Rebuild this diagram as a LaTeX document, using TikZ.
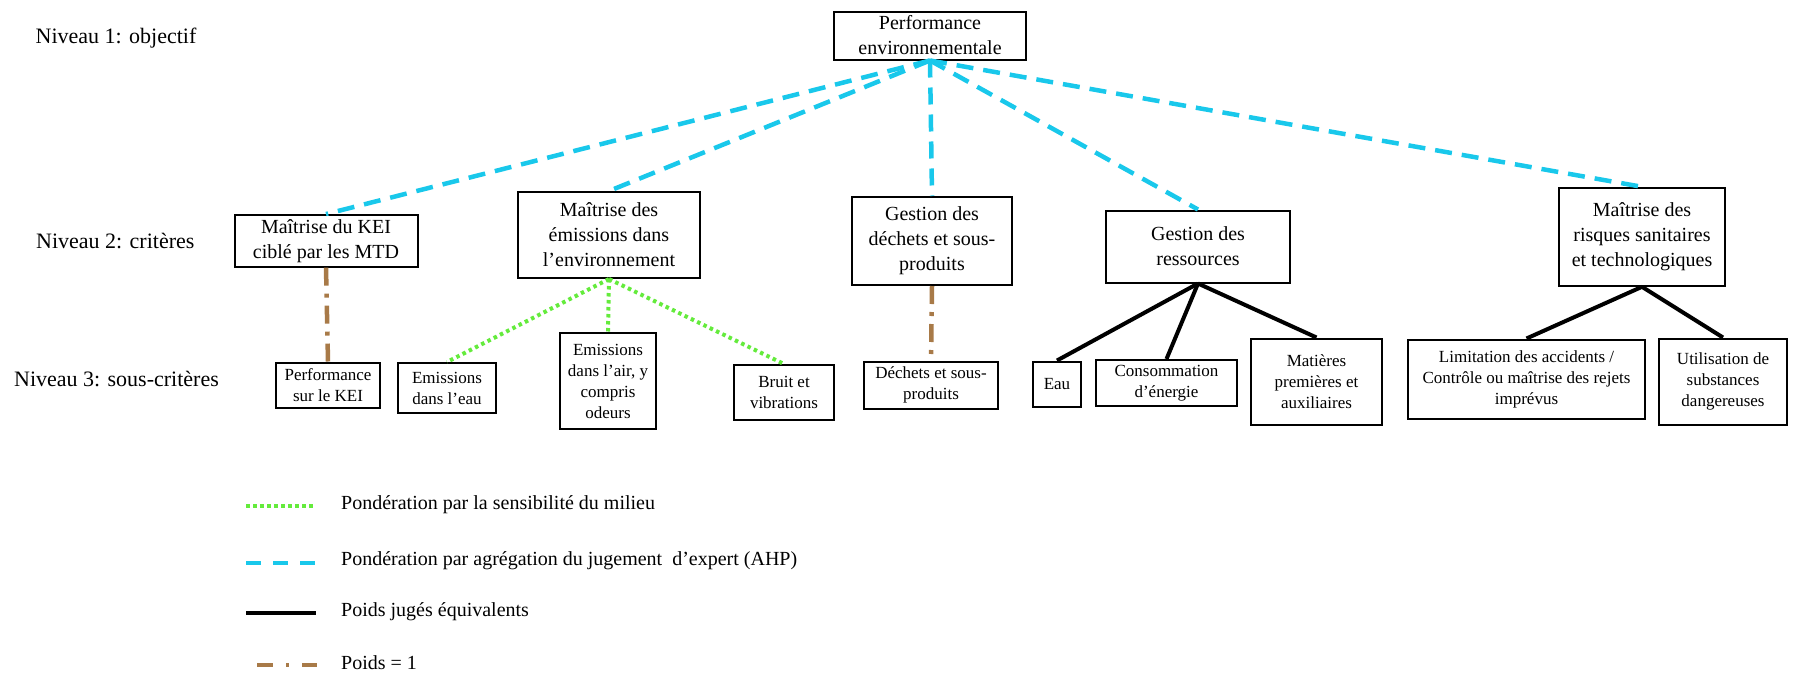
\documentclass[tikz,border=0pt]{standalone}
\usepackage{fontspec}
\setmainfont{Liberation Serif}
\definecolor{ahpc}{RGB}{25,200,235}
\definecolor{senc}{RGB}{100,235,60}
\definecolor{brc}{RGB}{168,122,72}
\begin{document}
\begin{tikzpicture}[x=1pt,y=-1pt,
  lvl/.style={anchor=west, inner sep=0pt, font=\fontsize{22}{26}\selectfont},
  boxb/.style={draw, line width=2pt, align=center, inner sep=1pt, font=\fontsize{20}{25}\selectfont},
  boxc/.style={draw, line width=2pt, align=center, inner sep=1pt, font=\fontsize{17}{21}\selectfont},
  legt/.style={anchor=west, inner sep=0pt, font=\fontsize{20}{24}\selectfont},
  ahpline/.style={draw=ahpc, line width=4.5pt, dash pattern=on 17pt off 10pt},
  senline/.style={draw=senc, line width=4pt, dash pattern=on 3.5pt off 3.5pt},
  eqline/.style={draw=black, line width=4pt},
  oneline/.style={draw=brc, line width=4.5pt, dash pattern=on 18pt off 8pt on 4pt off 8pt}
]
\useasboundingbox (0,0) rectangle (1794,673);

% level labels
\node[lvl] (n1) at (35.5,37.8) {Niveau 1: objectif};
\node[lvl] (n2) at (36,241) {Niveau 2: critères};
\node[lvl] (n3) at (14,379) {Niveau 3: sous-critères};

% level 1
\node[boxb, minimum width=192pt, minimum height=48pt] (perf) at (930,35.5) {Performance\\environnementale};

% level 2
\node[boxb, minimum width=183pt, minimum height=51.5pt] (kei) at (326,240.8) {Maîtrise du KEI\\ciblé par les MTD};
\node[boxb, minimum width=182pt, minimum height=86pt] (mem) at (609,235) {Maîtrise des\\émissions dans\\l’environnement};
\node[boxb, minimum width=160pt, minimum height=88pt] (gd) at (932,241) {Gestion des\\déchets et sous-\\produits};
\node[boxb, minimum width=184pt, minimum height=72pt] (gr) at (1198,246.5) {Gestion des\\ressources};
\node[boxb, minimum width=166pt, minimum height=98pt] (mr) at (1642,236.8) {Maîtrise des\\risques sanitaires\\et technologiques};

% level 3
\node[boxc, minimum width=104pt, minimum height=45pt] (pk) at (328,385) {Performance\\sur le KEI};
\node[boxc, minimum width=98pt, minimum height=50pt] (ee) at (447,388) {Emissions\\dans l’eau};
\node[boxc, minimum width=96pt, minimum height=96pt] (ea) at (608,381) {Emissions\\dans l’air, y\\compris\\odeurs};
\node[boxc, minimum width=100pt, minimum height=55pt] (br) at (784,392.5) {Bruit et\\vibrations};
\node[boxc, minimum width=134pt, minimum height=47pt] (ds) at (931,385) {Déchets et sous-\\produits};
\node[boxc, minimum width=48pt, minimum height=45pt] (eau) at (1057,384) {Eau};
\node[boxc, minimum width=141pt, minimum height=46pt] (ce) at (1166.5,383) {Consommation\\d’énergie};
\node[boxc, minimum width=131pt, minimum height=86pt] (mp) at (1316.5,381.5) {Matières\\premières et\\auxiliaires};
\node[boxc, minimum width=237pt, minimum height=79pt] (li) at (1526.5,379) {Limitation des accidents /\\Contrôle ou maîtrise des rejets\\imprévus};
\node[boxc, minimum width=128pt, minimum height=86pt] (ut) at (1723,381.5) {Utilisation de\\substances\\dangereuses};

% connectors level 1 -> 2
\draw[ahpline] (perf.south) -- (kei.north);
\draw[ahpline] (perf.south) -- (mem.north);
\draw[ahpline] (perf.south) -- (gd.north);
\draw[ahpline] (perf.south) -- (gr.north);
\draw[ahpline] (perf.south) -- (mr.north);

% connectors level 2 -> 3
\draw[oneline] (kei.south) -- (pk.north);
\draw[senline] (mem.south) -- (ee.north);
\draw[senline] (mem.south) -- (ea.north);
\draw[senline] (mem.south) -- (br.north);
\draw[oneline] (gd.south) -- (ds.north);
\draw[eqline] (gr.south) -- (eau.north);
\draw[eqline] (gr.south) -- (ce.north);
\draw[eqline] (gr.south) -- (mp.north);
\draw[eqline] (mr.south) -- (li.north);
\draw[eqline] (mr.south) -- (ut.north);

% legend
\coordinate (s1a) at (246,506); \coordinate (s1b) at (316,506);
\coordinate (s2a) at (246,563); \coordinate (s2b) at (315,563);
\coordinate (s3a) at (246,613); \coordinate (s3b) at (316,613);
\coordinate (s4a) at (257,665); \coordinate (s4b) at (317,665);
\draw[senline] (s1a) -- (s1b);
\draw[ahpline, dash pattern=on 15pt off 12pt] (s2a) -- (s2b);
\draw[eqline] (s3a) -- (s3b);
\draw[oneline, dash pattern=on 16pt off 13pt on 3pt off 13pt] (s4a) -- (s4b);
\node[legt] (t1) at (341,505) {Pondération par la sensibilité du milieu};
\node[legt] (t2) at (341,561) {Pondération par agrégation du jugement\ \ d’expert (AHP)};
\node[legt] (t3) at (341,612) {Poids jugés équivalents};
\node[legt] (t4) at (341,663) {Poids = 1};
\end{tikzpicture}
\end{document}
